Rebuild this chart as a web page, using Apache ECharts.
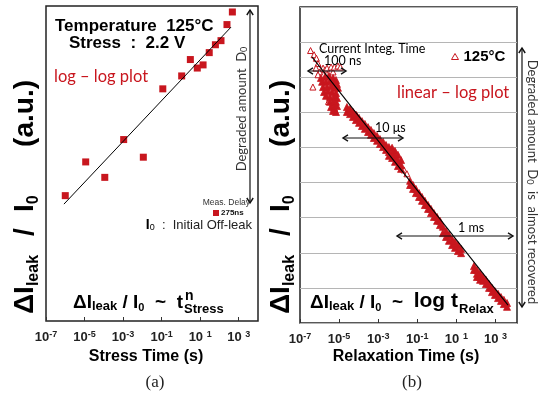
<!DOCTYPE html>
<html><head><meta charset="utf-8">
<script src="https://cdn.jsdelivr.net/npm/echarts@6/dist/echarts.min.js"></script>
<style>html,body{margin:0;padding:0;background:#fff}#c{width:550px;height:399px}</style>
</head><body><div id="c"></div>
<script>
// ---- tick labels (decade exponents of time axis) ----
const xTickExps = [-7, -5, -3, -1, 1, 3];

// ---- (a) stress: log10(stress time / s) and degradation (log scale, a.u.) ----
const stressLogT = [-6.00, -4.94, -3.95, -2.97, -1.95, -0.94, 0.04, 0.49, 0.85, 1.15, 1.47, 1.79, 2.08, 2.39, 2.67];
const stressDeg  = [39.8, 50.5, 45.6, 57.6, 52.0, 73.7, 77.8, 83.0, 80.3, 81.3, 85.2, 87.7, 89.0, 94.1, 98.1];
const stressFitLogT = [-6.07, 2.60];
const stressFitDeg  = [37.1, 93.3];

// ---- (b) relaxation: [log10(relax time / s), degradation a.u.] ----
const relaxSparse = [
 [-6.46,7.76],[-6.28,7.64],[-6.16,7.54],[-6.08,7.39],[-6.18,7.26],[-6.00,7.15],[-5.82,7.26],[-5.72,7.21],
 [-5.62,7.26],[-5.41,7.29],[-5.31,7.15],[-5.24,7.29],[-5.06,7.32],[-4.93,7.29],[-6.08,7.07],[-6.34,6.72],
 [-5.54,6.31],[-5.47,6.38],[-5.21,6.08],[-4.54,6.07],[-4.29,6.01],[-4.11,5.93],[-1.68,4.36],[-1.53,4.25]
];
const relaxDense = [
 [-5.93,6.98],[-5.72,7.01],[-5.52,7.04],[-5.31,6.98],[-5.16,6.92],
 [-5.87,6.87],[-5.67,6.87],[-5.47,6.89],[-5.26,6.84],[-5.11,6.81],
 [-5.82,6.72],[-5.62,6.72],[-5.41,6.75],[-5.21,6.70],[-5.06,6.70],
 [-5.77,6.58],[-5.57,6.61],[-5.36,6.58],[-5.16,6.55],
 [-5.67,6.47],[-5.47,6.44],[-5.26,6.44],[-5.11,6.41],
 [-5.47,6.30],[-5.31,6.27],[-5.16,6.30],
 [-5.41,6.15],[-5.26,6.13],[-5.11,6.18],
 [-5.31,6.04],[-5.16,6.01],
 [-4.60,6.15],[-4.60,6.01],[-4.44,6.10],[-4.44,5.95],[-4.29,6.01],[-4.29,5.87],[-4.14,5.93],[-4.14,5.78],
 [-3.98,5.84],[-3.98,5.70],[-3.83,5.75],[-3.83,5.61],[-3.68,5.67],[-3.68,5.53],[-3.52,5.58],[-3.52,5.44],
 [-3.37,5.50],[-3.37,5.36],[-3.22,5.41],[-3.22,5.27],[-3.06,5.33],[-3.06,5.19],[-2.91,5.24],[-2.91,5.10],
 [-2.75,5.16],[-2.75,5.01],[-2.60,5.07],[-2.60,4.93],[-2.45,5.01],[-2.45,4.87],[-2.45,4.76],
 [-2.29,4.99],[-2.29,4.84],[-2.29,4.70],[-2.14,4.90],[-2.14,4.73],[-2.14,4.59],
 [-1.99,4.79],[-1.99,4.62],[-1.99,4.47],[-1.83,4.64],[-1.83,4.50],[-1.83,4.39],
 [-1.37,4.05],[-1.37,3.93],[-1.22,3.93],[-1.22,3.82],[-1.07,3.82],[-1.07,3.70],[-0.91,3.70],[-0.91,3.59],
 [-0.76,3.59],[-0.76,3.48],[-0.61,3.48],[-0.61,3.36],[-0.45,3.36],[-0.45,3.25],[-0.30,3.25],[-0.30,3.13],
 [-0.15,3.13],[-0.15,3.02],[0.01,3.02],[0.01,2.91],[0.16,2.91],[0.16,2.79],
 [0.31,2.74],[0.31,2.56],[0.47,2.62],[0.47,2.45],[0.62,2.51],[0.62,2.34],[0.78,2.39],[0.78,2.22],
 [0.93,2.31],[0.93,2.14],[1.08,2.22],[1.08,2.05],[1.24,2.11],[1.24,1.99],
 [1.90,1.62],[1.90,1.51],[2.05,1.51],[2.05,1.40],[2.05,1.31],[2.21,1.42],[2.21,1.31],[2.21,1.23],
 [2.36,1.31],[2.36,1.20],[2.51,1.23],[2.51,1.11],[2.67,1.11],[2.67,1.00],[2.82,1.00],[2.82,0.88],
 [2.97,0.91],[2.97,0.80],[3.13,0.83],[3.13,0.71],[3.28,0.74],[3.28,0.63],[3.43,0.66],[3.43,0.54],
 [3.59,0.57],[3.59,0.46]
];
const relaxFitLogT = [-6.39, 3.64];
const relaxFitDeg  = [7.58, 0.51];

const RED = '#c8161e';
const SANS = '"Liberation Sans", Arial, sans-serif';
const HUM = 'Lato, "Open Sans", sans-serif';
const SERIF = '"Liberation Serif", serif';

const chart = echarts.init(document.getElementById('c'));

function expLabel(v) { return v < 0 ? '{b|10}{s|' + v + '}' : '{b|10 }{s|' + v + '}'; }
function xAxisDef(gi, max) {
  return {
    type: 'value', gridIndex: gi, min: -7, max: max,
    axisLine: { show: false }, splitLine: { show: false },
    axisTick: { show: true, inside: true, length: 4, customValues: xTickExps, lineStyle: { color: '#333', width: 1 } },
    axisLabel: {
      customValues: xTickExps, formatter: expLabel, margin: 9,
      rich: {
        b: { fontSize: 13, fontWeight: 'bold', fontFamily: SANS, color: '#222', lineHeight: 15 },
        s: { fontSize: 9, fontWeight: 'bold', fontFamily: SANS, color: '#222', lineHeight: 15, verticalAlign: 'top' }
      }
    }
  };
}

function arrowHead(x, y, dir) {
  const s = 5, w = 3.2;
  let pts;
  if (dir === 'up') pts = [[x - w, y + s], [x, y], [x + w, y + s]];
  else if (dir === 'down') pts = [[x - w, y - s], [x, y], [x + w, y - s]];
  else if (dir === 'left') pts = [[x + s, y - w], [x, y], [x + s, y + w]];
  else pts = [[x - s, y - w], [x, y], [x - s, y + w]];
  return { type: 'polyline', shape: { points: pts }, style: { stroke: '#111', lineWidth: 1.4, fill: null }, z: 100 };
}
function vArrow(x, y1, y2) {
  return [
    { type: 'line', shape: { x1: x, y1: y1, x2: x, y2: y2 }, style: { stroke: '#111', lineWidth: 1.2 }, z: 100 },
    arrowHead(x, y1, 'up'), arrowHead(x, y2, 'down')
  ];
}
function hArrow(x1, x2, y) {
  return [
    { type: 'line', shape: { x1: x1, y1: y, x2: x2, y2: y }, style: { stroke: '#111', lineWidth: 1.2 }, z: 100 },
    arrowHead(x1, y, 'left'), arrowHead(x2, y, 'right')
  ];
}
function txt(x, y, text, font, fill, align, valign, extra) {
  return Object.assign({
    type: 'text', x: x, y: y, z: 100,
    style: { text: text, font: font, fill: fill || '#000', align: align || 'left', verticalAlign: valign || 'middle',
             textAlign: align || 'left', textVerticalAlign: valign || 'middle' }
  }, extra || {});
}
function richTxt(x, y, text, rich, align, valign, rotation, baseFont, baseFill) {
  return {
    type: 'text', x: x, y: y, z: 100, rotation: rotation || 0,
    style: { text: text, rich: rich, fill: baseFill || '#000', font: baseFont, align: align, verticalAlign: valign,
             textAlign: align, textVerticalAlign: valign }
  };
}
const tok = (size, bold, extra) => Object.assign({ fontSize: size, fontWeight: bold ? 'bold' : 'normal', fontFamily: SANS, fill: '#000', color: '#000', verticalAlign: 'bottom' }, extra || {});

const yTitleRich = {
  D: tok(28, true, { padding: [0, 0, 3, 0] }),
  s: tok(16, true, { padding: [0, 0, 1, 0] })
};
// y-axis title pieces, placed along the reference title
function yTitle(x) {
  return [
    richTxt(x, 314, '{D|ΔI}{s|leak}', yTitleRich, 'left', 'middle', Math.PI / 2),
    richTxt(x, 232, '{D|/}', yTitleRich, 'center', 'middle', Math.PI / 2),
    richTxt(x, 212, '{D|I}{s|0}', yTitleRich, 'left', 'middle', Math.PI / 2),
    richTxt(x, 80, '{D|(a.u.)}', yTitleRich, 'right', 'middle', Math.PI / 2)
  ];
}

const formRich = {
  D: tok(19, true, { padding: [0, 0, 4, 0] }),
  L: tok(21, true, { padding: [0, 0, 4, 0] }),
  s: tok(13, true, { padding: [0, 0, 3, 0] }),
  z: tok(11, true, { padding: [0, 0, 3, 0] }),
  q: tok(13, true, { padding: [0, 0, 0, 1] })
};
const dRich = { z: { fontSize: 9, fontFamily: HUM, fill: '#333', verticalAlign: 'bottom' } };

const graphics = [].concat(
  // ----- panel (a) -----
  txt(55, 26, 'Temperature  125°C', 'bold 17px ' + SANS),
  txt(69, 43, 'Stress  :  2.2 V', 'bold 17px ' + SANS),
  txt(54, 77, 'log – log plot', '16.5px ' + HUM, RED),
  vArrow(250, 10, 203),
  richTxt(242, 109, 'Degraded amount  D{z|0}', dRich, 'center', 'middle', Math.PI / 2, '13px ' + HUM, '#333'),
  txt(250, 203, 'Meas. Delay', '8.5px ' + SANS, '#333', 'right'),
  richTxt(252, 225, '{I|I}{z|0}{t|  :  Initial Off-leak}', {
    I: tok(14, true), z: tok(9, false), t: tok(13, false, { fill: '#222' })
  }, 'right', 'middle'),
  richTxt(73, 316, '{D|ΔI}{s|leak}{D| / I}{z|0}{D|  ~  t}{q|Stress}', formRich, 'left', 'bottom'),
  txt(185, 296, 'n', 'bold 14px ' + SANS),
  yTitle(27),
  txt(146, 357, 'Stress Time (s)', 'bold 16px ' + SANS, '#000', 'center'),
  txt(155, 383, '(a)', '17px ' + SERIF, '#222', 'center'),
  // ----- panel (b) -----
  txt(319, 49, 'Current Integ. Time', '12.5px ' + HUM),
  txt(324, 61, '100 ns', '12.5px ' + HUM),
  hArrow(308, 346, 71),
  txt(375, 128, '10 μs', '12.5px ' + HUM),
  hArrow(343, 403, 138),
  txt(458, 228, '1 ms', '12.5px ' + HUM),
  hArrow(397, 513, 236),
  txt(397, 93, 'linear – log plot', '16.5px ' + HUM, RED),
  vArrow(522, 48, 307),
  richTxt(532, 182, 'Degraded amount  D{z|0}  is  almost recovered', dRich, 'center', 'middle', -Math.PI / 2, '13px ' + HUM, '#333'),
  richTxt(310, 316, '{D|ΔI}{s|leak}{D| / I}{z|0}{D|  ~  }{L|log t}{q|Relax}', formRich, 'left', 'bottom'),
  yTitle(283),
  txt(406, 357, 'Relaxation Time (s)', 'bold 16px ' + SANS, '#000', 'center'),
  txt(412, 383, '(b)', '17px ' + SERIF, '#222', 'center')
);

const option = {
  animation: false,
  backgroundColor: '#fff',
  grid: [
    { left: 46, top: 6, width: 212, height: 315, show: true, borderColor: '#222', borderWidth: 1.5, backgroundColor: 'transparent' },
    { left: 300, top: 7, width: 217, height: 316, show: true, borderColor: '#222', borderWidth: 1.5, backgroundColor: 'transparent' }
  ],
  xAxis: [xAxisDef(0, 4), xAxisDef(1, 4.1)],
  yAxis: [
    { type: 'value', gridIndex: 0, min: 0, max: 100, axisLine: { show: false }, axisTick: { show: false }, axisLabel: { show: false }, splitLine: { show: false } },
    { type: 'value', gridIndex: 1, min: 0, max: 9, interval: 1, axisLine: { show: false }, axisTick: { show: false }, axisLabel: { show: false },
      splitLine: { show: true, lineStyle: { color: '#b5b5b5', width: 1 } } }
  ],
  legend: [
    { left: 213, top: 209, padding: 0, itemWidth: 6, itemHeight: 6, itemGap: 2, selectedMode: false, data: ['275ns'],
      itemStyle: { color: RED, opacity: 1 },
      textStyle: { fontSize: 8, fontWeight: 'bold', fontFamily: SANS, color: '#111', padding: [0, 0, 0, -3] } },
    { left: 451, top: 49, padding: 0, itemWidth: 7, itemHeight: 6, selectedMode: false, data: ['125°C'],
      itemStyle: { color: '#fff', borderColor: RED, borderWidth: 1, opacity: 1 },
      textStyle: { fontSize: 15, fontWeight: 'bold', fontFamily: SANS, color: '#000' } }
  ],
  series: [
    { name: '275ns', type: 'scatter', xAxisIndex: 0, yAxisIndex: 0, symbol: 'rect', symbolSize: 7,
      itemStyle: { color: RED, opacity: 1 }, data: stressLogT.map((t, i) => [t, stressDeg[i]]), z: 3 },
    { name: 'fitA', type: 'line', xAxisIndex: 0, yAxisIndex: 0, symbol: 'none', lineStyle: { color: '#000', width: 1 },
      data: stressFitLogT.map((t, i) => [t, stressFitDeg[i]]), z: 5 },
    { name: '125°C', type: 'scatter', xAxisIndex: 1, yAxisIndex: 1, symbol: 'triangle', symbolSize: 6,
      itemStyle: { color: '#fff', borderColor: RED, borderWidth: 1, opacity: 1 }, data: relaxSparse, z: 3 },
    { name: 'dense', type: 'scatter', xAxisIndex: 1, yAxisIndex: 1, symbol: 'triangle', symbolSize: 7,
      itemStyle: { color: RED, borderColor: RED, borderWidth: 0.8, opacity: 1 }, data: relaxDense, z: 3 },
    { name: 'fitB', type: 'line', xAxisIndex: 1, yAxisIndex: 1, symbol: 'none', lineStyle: { color: '#000', width: 1.1 },
      data: relaxFitLogT.map((t, i) => [t, relaxFitDeg[i]]), z: 5 }
  ],
  graphic: { elements: graphics }
};
chart.setOption(option);
</script></body></html>
